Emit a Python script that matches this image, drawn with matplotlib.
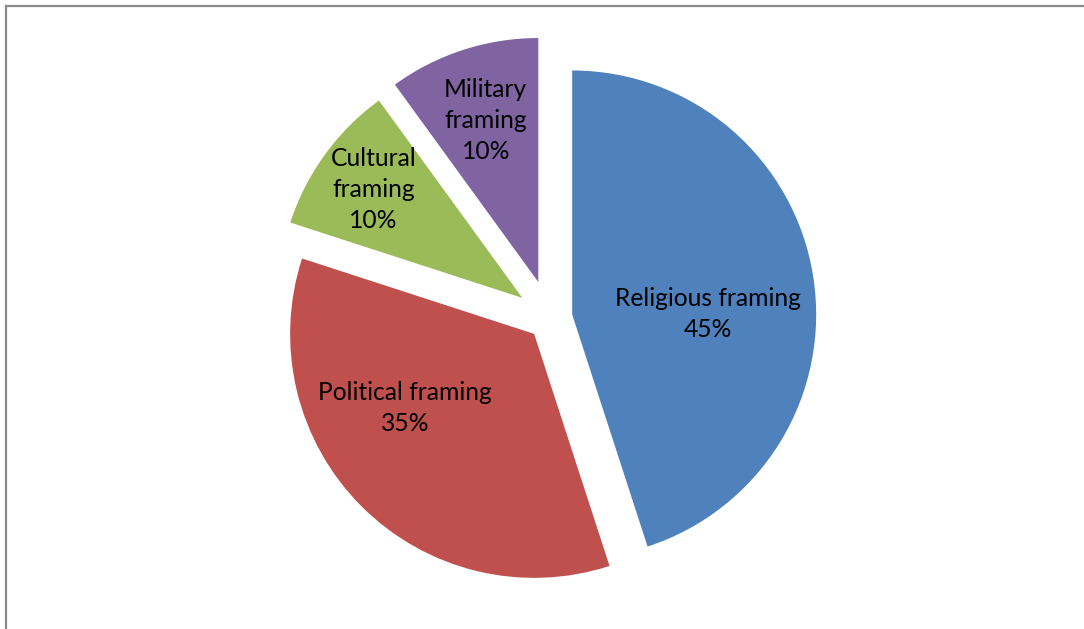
import matplotlib
matplotlib.use("Agg")
import matplotlib.pyplot as plt
import numpy as np

# data
categories = ["Religious framing", "Political framing", "Cultural\nframing", "Military\nframing"]
shares = [45, 35, 10, 10]
colors = ["#4F81BD", "#C0504D", "#9BBB59", "#8064A2"]

# layout (pixels of the 1084x629 picture)
W, H = 1084, 629
cx, cy, R = 550, 318, 244
explode = [0.092, 0.092, 0.14, 0.155]
# label placement relative to each wedge's own centre: (distance in radii, angle in deg)
label_pos = [(0.557, 0), (0.61, 210), (0.755, 144), (0.697, 108)]

fig = plt.figure(figsize=(W / 100, H / 100), dpi=100)
ax = fig.add_axes([0, 0, 1, 1])

wedges, _ = ax.pie(shares, colors=colors, explode=explode, startangle=90,
                   counterclock=False, radius=1, wedgeprops=dict(linewidth=0))

# pie() resets the limits, so set them afterwards
ax.set_xlim(-cx / R, (W - cx) / R)
ax.set_ylim(-(H - cy) / R, cy / R)
ax.set_aspect("equal")
ax.axis("off")

for w, cat, s, (d, a) in zip(wedges, categories, shares, label_pos):
    x0, y0 = w.center
    t = np.deg2rad(a)
    ax.text(x0 + d * np.cos(t), y0 + d * np.sin(t), "%s\n%d%%" % (cat, s),
            ha="center", va="center", fontsize=17.7, family="Lato",
            linespacing=1.42, color="black")

# grey chart-area frame (top and left edges visible)
fig.add_artist(plt.Line2D([6 / W, 6 / W], [0, 1 - 5.5 / H], transform=fig.transFigure,
                          color="#8a8a8a", lw=1.6))
fig.add_artist(plt.Line2D([6 / W, 1], [1 - 5.5 / H, 1 - 5.5 / H], transform=fig.transFigure,
                          color="#8a8a8a", lw=1.6))

fig.savefig("out.png", dpi=100)
